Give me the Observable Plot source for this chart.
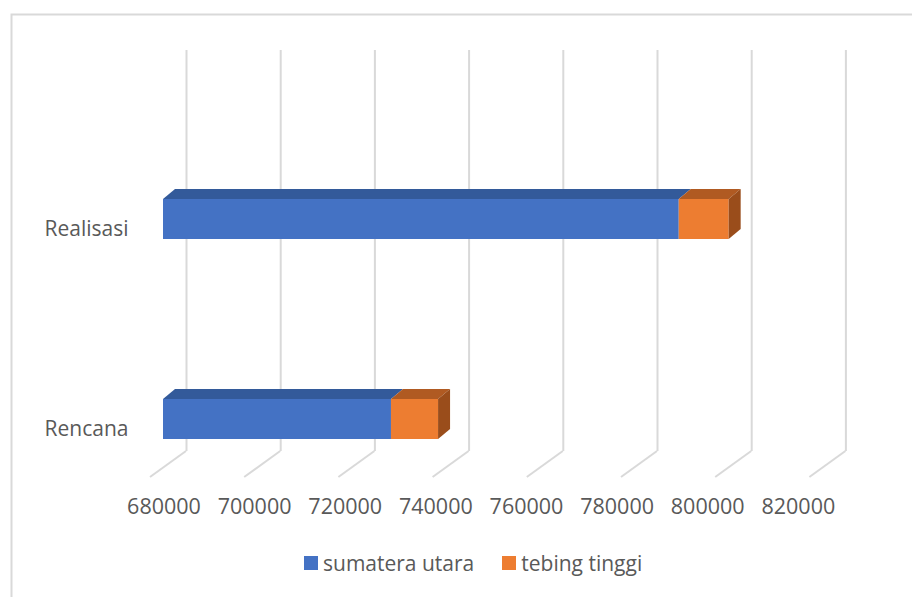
<!DOCTYPE html>
<html>
<head>
<meta charset="utf-8">
<script src="https://cdn.jsdelivr.net/npm/d3@7"></script>
<script src="https://cdn.jsdelivr.net/npm/@observablehq/plot@0.6"></script>
<style>
  html, body { margin: 0; padding: 0; overflow: hidden; background: #fff; }
  #chart { position: relative; width: 912px; height: 597px; }
  #chart > svg { position: absolute; left: 0; top: 0; }
  #legend { position: absolute; left: 304px; top: 546px; }
  .lg-swatches { font-family: "Open Sans", sans-serif !important; font-size: 21px !important; color: #595959 !important; margin: 0 !important; }
  .lg-swatch { margin-right: 28px !important; }
  .lg-swatch > svg { margin-right: 5px !important; }
</style>
</head>
<body>
<div id="chart"><div id="legend"></div></div>
<script>
// Categories and series of the stacked bars
const categories = ["Realisasi", "Rencana"];
const series = ["sumatera utara", "tebing tinggi"];
const sumateraUtara = [789500, 728400];
const tebingTinggi = [10600, 10000];
const xTicks = [680000, 700000, 720000, 740000, 760000, 780000, 800000, 820000];
const axisMin = 680000;
const axisMax = 820000;

// Face colours: front, top, side
const frontColors = ["#4472C4", "#ED7D31"];
const topColors = ["#335A9A", "#B05A22"];
const sideColors = ["#2B4C84", "#9A4D1B"];

// Oblique 3-D look (pixel offsets)
const gridColor = "#d9d9d9";
const backShift = 23, frontShift = -13;     // grid back / front planes
const gridTop = 50, floorBack = 451, floorFront = 477;
const depthX = 12, depthY = -10;            // bar depth
const tickSpread = 0.962;                   // perspective squeeze of tick labels
const textColor = "#595959";

// Stack the series per category (bars clipped at the axis minimum)
const seriesValues = [sumateraUtara, tebingTinggi];
const segments = [];
categories.forEach((category, i) => {
  let acc = 0;
  series.forEach((s, j) => {
    const start = acc, end = acc + seriesValues[j][i];
    acc = end;
    segments.push({category, series: s, index: j, last: j === series.length - 1,
                   x1: Math.max(start, axisMin), x2: end});
  });
});

// Slanted floor part of each gridline
function gridFloor(index, scales) {
  const g = d3.create("svg:g").attr("fill", "none").attr("stroke", gridColor).attr("stroke-width", 2);
  for (const t of xTicks) {
    const x = scales.x(t);
    g.append("path").attr("d", `M${x + backShift},${floorBack}L${x + frontShift},${floorFront}`);
  }
  return g.node();
}

// Top and end faces of the stacked bars
function barFaces(index, scales) {
  const g = d3.create("svg:g");
  const bw = scales.y.bandwidth();
  for (const d of segments) {
    const xa = scales.x(d.x1), xb = scales.x(d.x2), y0 = scales.y(d.category);
    g.append("path").attr("fill", topColors[d.index])
      .attr("d", `M${xa},${y0}L${xb},${y0}L${xb + depthX},${y0 + depthY}L${xa + depthX},${y0 + depthY}Z`);
    if (d.last) {
      g.append("path").attr("fill", sideColors[d.index])
        .attr("d", `M${xb},${y0}L${xb + depthX},${y0 + depthY}L${xb + depthX},${y0 + bw + depthY}L${xb},${y0 + bw}Z`);
    }
  }
  return g.node();
}

// Value axis labels on the floor edge
function tickLabels(index, scales) {
  const g = d3.create("svg:g").attr("fill", textColor).attr("font-size", 21.5).attr("text-anchor", "middle");
  const x0 = scales.x(axisMin);
  for (const t of xTicks) {
    g.append("text").attr("x", x0 + 1 + (scales.x(t) - x0) * tickSpread).attr("y", 514).text(String(t));
  }
  return g.node();
}

const chart = Plot.plot({
  width: 912,
  height: 597,
  margin: 0,
  style: {fontFamily: '"Open Sans", sans-serif', background: "transparent", overflow: "visible"},
  x: {domain: [axisMin, axisMax], range: [163, 822.4], axis: null},
  y: {type: "band", domain: categories, range: [119, 519], paddingInner: 0.8, paddingOuter: 0.4, axis: null},
  color: {domain: series, range: frontColors},
  marks: [
    Plot.frame({stroke: gridColor, strokeWidth: 2, insetLeft: 11, insetTop: 14, insetRight: -20, insetBottom: -20}),
    Plot.ruleX(xTicks, {x: d => d, dx: backShift, insetTop: gridTop, insetBottom: 597 - floorBack, stroke: gridColor, strokeWidth: 2}),
    gridFloor,
    Plot.barX(segments, {x1: "x1", x2: "x2", y: "category", fill: "series"}),
    barFaces,
    tickLabels,
    Plot.text(categories, {y: d => d, text: d => d, frameAnchor: "left", textAnchor: "end", dx: 128, dy: 9.5,
                           fill: textColor, fontSize: 21})
  ]
});

document.getElementById("chart").prepend(chart);
document.getElementById("legend").append(chart.legend("color", {className: "lg", swatchSize: 14}));
</script>
</body>
</html>
